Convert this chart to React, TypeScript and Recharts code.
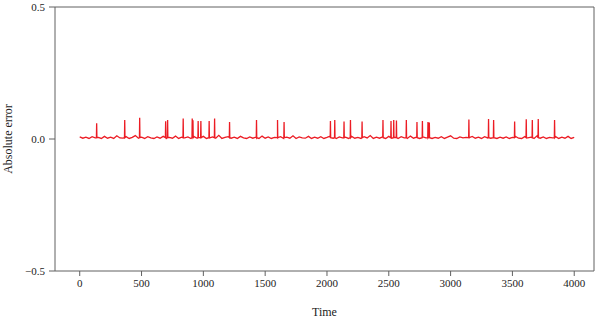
import { LineChart, Line, XAxis, YAxis, ReferenceLine } from "recharts";

// Spike times and heights
const spikeTimes = [
  137, 364, 485, 695, 711, 837, 910, 916, 958, 980, 1047, 1091, 1212, 1430,
  1600, 1653, 2028, 2063, 2138, 2190, 2284, 2453, 2518, 2540, 2562, 2642, 2728,
  2772, 2817, 2828, 3148, 3307, 3348, 3518, 3612, 3661, 3709, 3841,
];
const spikeValues = [
  0.06, 0.072, 0.08, 0.067, 0.072, 0.078, 0.078, 0.071, 0.068, 0.068, 0.068,
  0.078, 0.064, 0.072, 0.072, 0.064, 0.068, 0.072, 0.066, 0.072, 0.066, 0.072,
  0.068, 0.072, 0.07, 0.072, 0.064, 0.068, 0.064, 0.062, 0.074, 0.076, 0.072,
  0.066, 0.075, 0.072, 0.076, 0.072,
];

// Baseline error, every 25 time steps from 0 to 4000
const baseStep = 25;
const baseValues = [
  0.008, 0.003, 0.007, 0.002, 0.009, 0.004, 0.006, 0.002, 0.010, 0.003,
  0.007, 0.002, 0.012, 0.004, 0.003, 0.009, 0.002, 0.006, 0.013, 0.003,
  0.007, 0.002, 0.009, 0.004, 0.002, 0.008, 0.003, 0.010, 0.002, 0.006,
  0.003, 0.011, 0.002, 0.007, 0.004, 0.008, 0.002, 0.009, 0.003, 0.006,
  0.010, 0.002, 0.004, 0.008, 0.003, 0.014, 0.002, 0.006, 0.009, 0.003,
  0.007, 0.002, 0.010, 0.004, 0.002, 0.008, 0.003, 0.007, 0.002, 0.011,
  0.003, 0.008, 0.002, 0.006, 0.004, 0.009, 0.002, 0.007, 0.003, 0.012,
  0.002, 0.008, 0.004, 0.003, 0.010, 0.002, 0.007, 0.003, 0.009, 0.002,
  0.006, 0.011, 0.003, 0.002, 0.008, 0.004, 0.007, 0.002, 0.010, 0.003,
  0.006, 0.002, 0.009, 0.004, 0.013, 0.002, 0.007, 0.003, 0.008, 0.002,
  0.010, 0.003, 0.006, 0.002, 0.009, 0.004, 0.002, 0.011, 0.003, 0.007,
  0.002, 0.008, 0.004, 0.010, 0.002, 0.006, 0.003, 0.009, 0.002, 0.007,
  0.012, 0.003, 0.002, 0.008, 0.004, 0.006, 0.002, 0.010, 0.003, 0.007,
  0.002, 0.009, 0.004, 0.003, 0.011, 0.002, 0.007, 0.003, 0.008, 0.002,
  0.006, 0.010, 0.003, 0.002, 0.009, 0.004, 0.007, 0.002, 0.012, 0.003,
  0.008, 0.002, 0.006, 0.004, 0.009, 0.002, 0.007, 0.003, 0.010, 0.002,
  0.006,
];

const xTicks = [0, 500, 1000, 1500, 2000, 2500, 3000, 3500, 4000];
const yTicks = [-0.5, 0, 0.5];

const points: { t: number; v: number }[] = [];
baseValues.forEach((v, i) => points.push({ t: i * baseStep, v }));
spikeTimes.forEach((t, i) => {
  points.push({ t: t - 2, v: 0.005 });
  points.push({ t, v: spikeValues[i] });
  points.push({ t: t + 2, v: 0.005 });
});
const data = points.sort((a, b) => a.t - b.t);

const AXIS = "#606060";
const FONT = "'Liberation Serif', 'Times New Roman', serif";

const YLabel = (props: any) => {
  const { x, y, height } = props.viewBox;
  const cx = x + 8;
  const cy = y + height / 2;
  return (
    <text
      x={cx}
      y={cy}
      transform={`rotate(-90 ${cx} ${cy})`}
      textAnchor="middle"
      dominantBaseline="central"
      fontFamily={FONT}
      fontSize={12}
      fill="#222"
    >
      Absolute error
    </text>
  );
};

export default function App() {
  return (
    <div style={{ position: "absolute", left: 0, top: 0 }}>
      <LineChart width={600} height={322} data={data} margin={{ top: 7, right: 6, left: 0, bottom: 0 }}>
        <XAxis
          type="number"
          dataKey="t"
          domain={[-200, 4160]}
          ticks={xTicks}
          allowDataOverflow
          height={51}
          stroke={AXIS}
          tickSize={5}
          tickMargin={3}
          tick={{ fill: "#222", fontSize: 11, fontFamily: FONT }}
          label={{ value: "Time", position: "insideBottom", offset: 6, fill: "#222", fontSize: 12, fontFamily: FONT }}
        />
        <YAxis
          type="number"
          domain={[-0.5, 0.5]}
          ticks={yTicks}
          width={55}
          stroke={AXIS}
          tickSize={6}
          tickMargin={4}
          tickFormatter={(v: number) => v.toFixed(1).replace("-", "\u2212")}
          tick={{ fill: "#222", fontSize: 11, fontFamily: FONT }}
          label={<YLabel />}
        />
        <ReferenceLine y={0.5} stroke={AXIS} />
        <ReferenceLine x={4160} stroke={AXIS} />
        <Line
          type="linear"
          dataKey="v"
          stroke="#ec1c24"
          strokeWidth={1.3}
          dot={false}
          isAnimationActive={false}
        />
      </LineChart>
    </div>
  );
}
